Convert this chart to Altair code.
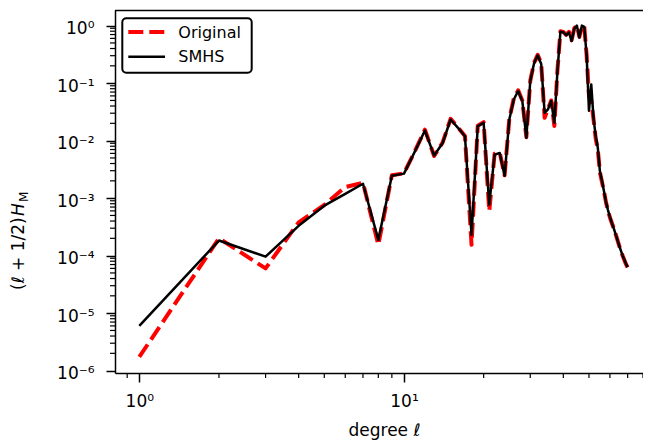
import altair as alt
import pandas as pd

# ---------------- data ----------------
ell = list(range(1, 71))
original = [1.73e-6, 2.0e-4, 6.0e-5, 3.8e-4, 7.6e-4, 1.56e-3, 1.85e-3, 1.54e-4, 2.5e-3, 2.7e-3,
            6.6e-3, 0.0155, 5.4e-3, 9.3e-3, 0.024, 0.017, 0.012, 1.54e-4, 0.0182, 0.021,
            5.9e-4, 5.9e-3, 6.2e-3, 2.5e-3, 0.024, 0.054, 0.075, 0.05, 0.0115, 0.11,
            0.225, 0.31, 0.22, 0.025, 0.036, 0.05, 0.018, 0.165, 0.8, 0.78,
            0.69, 0.78, 0.56, 0.9, 1.0, 0.64, 1.0, 0.96, 0.3, 0.06,
            0.05, 0.024, 0.011, 0.007, 2.8e-3, 1.9e-3, 1.3e-3, 8.4e-4, 6.1e-4, 4.6e-4,
            3.7e-4, 3.0e-4, 2.4e-4, 1.9e-4, 1.5e-4, 1.2e-4, 1.0e-4, 8.4e-5, 7.1e-5, 6.2e-5]
smhs = [6.0e-6, 1.83e-4, 9.6e-5, 3.3e-4, 7.4e-4, 1.19e-3, 1.78e-3, 1.88e-4, 2.46e-3, 2.67e-3,
        6.5e-3, 0.015, 5.5e-3, 9.1e-3, 0.0233, 0.0167, 0.0119, 2.3e-4, 0.0179, 0.0204,
        7.7e-4, 5.7e-3, 6.1e-3, 2.46e-3, 0.0233, 0.052, 0.073, 0.049, 0.0112, 0.109,
        0.22, 0.305, 0.215, 0.0305, 0.035, 0.049, 0.0204, 0.16, 0.78, 0.77,
        0.68, 0.76, 0.54, 0.88, 1.0, 0.62, 1.0, 0.95, 0.30, 0.033,
        0.095, 0.025, 0.012, 0.0075, 2.9e-3, 2.0e-3, 1.3e-3, 8.5e-4, 6.2e-4, 4.7e-4,
        3.7e-4, 3.0e-4, 2.4e-4, 1.9e-4, 1.5e-4, 1.22e-4, 1.0e-4, 8.5e-5, 7.2e-5, 6.3e-5]
series_names = ["Original", "SMHS"]

x_major = [1, 10]
x_major_labels = ["10⁰", "10¹"]
y_major = [1e-6, 1e-5, 1e-4, 1e-3, 1e-2, 1e-1, 1]
y_major_labels = ["10⁰", "10⁻¹", "10⁻²", "10⁻³", "10⁻⁴", "10⁻⁵", "10⁻⁶"]  # index = -exponent
x_minor = [0.9] + [m * 10 ** k for k in (0, 1) for m in range(2, 10)]
y_minor = [m * 10.0 ** k for k in range(-7, 1) for m in range(2, 10)]

x_domain = [0.8095, 80.0]
y_domain = [9.1e-7, 1.87]

# ---------------- layout ----------------
W, H = 528, 363
FONT = "DejaVu Sans"
FS = 17

df = pd.DataFrame({
    "l": ell * 2,
    "v": original + smhs,
    "series": [series_names[0]] * len(ell) + [series_names[1]] * len(ell),
})
y_minor = [v for v in y_minor if y_domain[0] <= v <= y_domain[1]]
x_minor = [v for v in x_minor if x_domain[0] <= v <= x_domain[1]]

xscale = alt.Scale(type="log", domain=x_domain, nice=False, zero=False)
yscale = alt.Scale(type="log", domain=y_domain, nice=False, zero=False)

ylab_arr = "[" + ",".join("'%s'" % s for s in y_major_labels) + "]"
xlab_arr = "[" + ",".join("'%s'" % s for s in x_major_labels) + "]"

x_axis = alt.Axis(values=x_major, labelExpr=xlab_arr + "[round(log(datum.value)/LN10)]",
                  title="degree ℓ", titleFont=FONT, titleFontSize=FS, titleFontWeight="normal",
                  titleColor="black", titleBaseline="alphabetic", titleY=62,
                  titleX=(384 - 115),
                  labelFont=FONT, labelFontSize=FS, labelColor="black", labelPadding=11,
                  tickSize=9, tickWidth=1.5, tickColor="black", domainColor="black",
                  domainWidth=1.5, grid=False, labelFlush=False, labelOverlap=False)
y_axis = alt.Axis(values=y_major, labelExpr=ylab_arr + "[round(-log(datum.value)/LN10)]",
                  title=None, labelFont=FONT, labelFontSize=FS, labelColor="black",
                  labelPadding=12, labelOffset=3,
                  tickSize=9, tickWidth=1.5, tickColor="black", domainColor="black",
                  domainWidth=1.5, grid=False, labelFlush=False, labelOverlap=False)

X = alt.X("l:Q", scale=xscale, axis=x_axis, title="degree ℓ")
Y = alt.Y("v:Q", scale=yscale, axis=y_axis, title=None)

orig_line = alt.Chart(df).transform_filter(alt.datum.series == series_names[0]).mark_line(
    color="#ff0000", strokeWidth=4, strokeDash=[15, 6], strokeJoin="round", clip=True
).encode(x=X, y=Y)
smhs_line = alt.Chart(df).transform_filter(alt.datum.series == series_names[1]).mark_line(
    color="#000000", strokeWidth=2.5, strokeJoin="round", clip=True
).encode(x=X, y=Y)

ymin_ticks = alt.Chart(pd.DataFrame({"v": y_minor})).mark_rule(color="black", strokeWidth=1.2).encode(
    y=Y, x=alt.value(0), x2=alt.value(-5)
)
xmin_ticks = alt.Chart(pd.DataFrame({"l": x_minor})).mark_rule(color="black", strokeWidth=1.2).encode(
    x=X, y=alt.value(H), y2=alt.value(H + 5)
)

one = pd.DataFrame({"t": [""]})
top_spine = alt.Chart(one).mark_rule(color="black", strokeWidth=1.5).encode(
    x=alt.value(0), x2=alt.value(W), y=alt.value(0.5)
)

# legend (drawn by hand, matplotlib style)
leg_box = alt.Chart(one).mark_rect(fill="white", stroke="black", strokeWidth=2, cornerRadius=4).encode(
    x=alt.value(7.3), x2=alt.value(136.7), y=alt.value(8.3), y2=alt.value(62.7)
)
leg_red = alt.Chart(one).mark_rule(color="#ff0000", strokeWidth=4, strokeDash=[15, 6]).encode(
    x=alt.value(13.3), x2=alt.value(50), y=alt.value(22)
)
leg_black = alt.Chart(one).mark_rule(color="#000000", strokeWidth=2.5).encode(
    x=alt.value(13.3), x2=alt.value(50), y=alt.value(46.7)
)
leg_t1 = alt.Chart(pd.DataFrame({"t": [series_names[0]]})).mark_text(
    font=FONT, fontSize=16, align="left", baseline="middle", color="black"
).encode(text="t:N", x=alt.value(63.3), y=alt.value(22.5))
leg_t2 = alt.Chart(pd.DataFrame({"t": [series_names[1]]})).mark_text(
    font=FONT, fontSize=16, align="left", baseline="middle", color="black"
).encode(text="t:N", x=alt.value(63.3), y=alt.value(47))

# y-axis title: (ℓ + 1/2)H_M
yt1 = alt.Chart(pd.DataFrame({"t": ["(ℓ + 1/2)"]})).mark_text(
    font=FONT, fontSize=FS, align="left", baseline="alphabetic", angle=270, color="black"
).encode(text="t:N", x=alt.value(-91), y=alt.value(280))
yt2 = alt.Chart(pd.DataFrame({"t": ["H"]})).mark_text(
    font=FONT, fontSize=FS, fontStyle="italic", align="left", baseline="alphabetic", angle=270, color="black"
).encode(text="t:N", x=alt.value(-91), y=alt.value(206))
yt3 = alt.Chart(pd.DataFrame({"t": ["M"]})).mark_text(
    font=FONT, fontSize=12, align="left", baseline="alphabetic", angle=270, color="black"
).encode(text="t:N", x=alt.value(-87.5), y=alt.value(192))

chart = alt.layer(
    orig_line, smhs_line, ymin_ticks, xmin_ticks, top_spine,
    leg_box, leg_red, leg_black, leg_t1, leg_t2, yt1, yt2, yt3
).properties(
    width=W, height=H,
    autosize=alt.AutoSizeParams(type="none"),
    padding={"left": 107, "top": 2, "right": 0, "bottom": 70},
).configure_view(stroke=None).configure(background="white")

chart.save("out.html", embed_options={"renderer": "svg", "actions": False})
